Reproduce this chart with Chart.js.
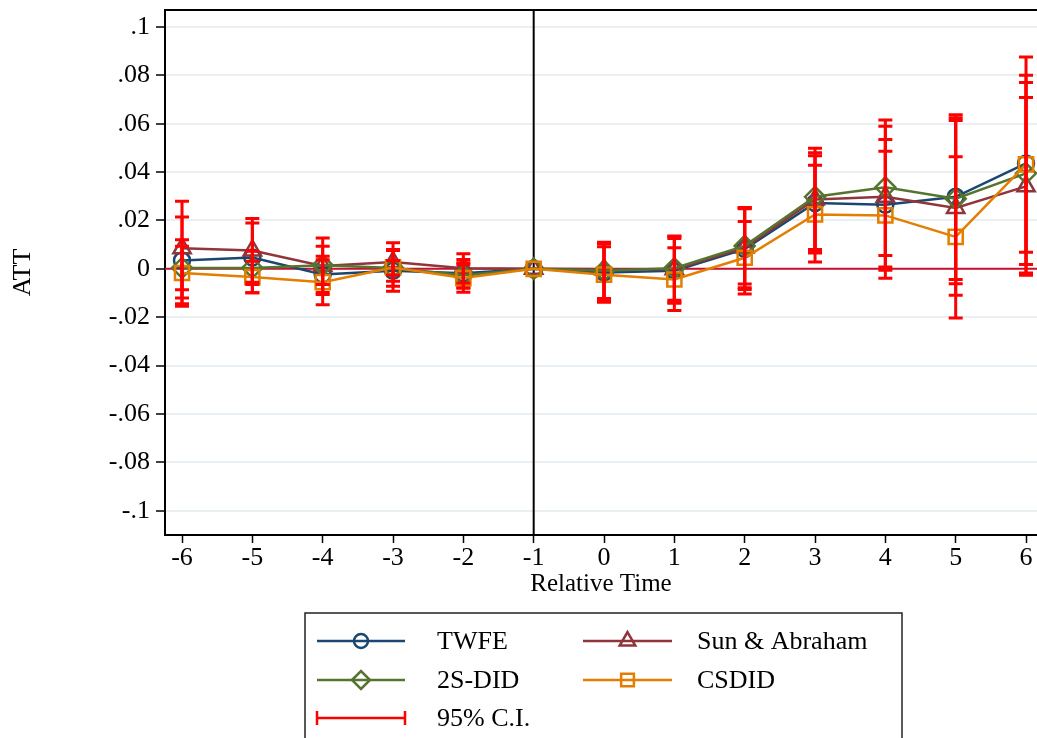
<!DOCTYPE html>
<html>
<head>
<meta charset="utf-8">
<script src="https://cdn.jsdelivr.net/npm/chart.js@4/dist/chart.umd.min.js"></script>
<style>
  html, body { margin: 0; padding: 0; background: #fff; overflow: hidden; }
  canvas { display: block; }
</style>
</head>
<body>
<canvas id="attChart" width="1037" height="738"></canvas>
<script>
// Event-study estimates by relative time
const relTime = [-6, -5, -4, -3, -2, -1, 0, 1, 2, 3, 4, 5, 6];
const xTicks = [-6, -5, -4, -3, -2, -1, 0, 1, 2, 3, 4, 5, 6];
const yTicks = [-0.1, -0.08, -0.06, -0.04, -0.02, 0, 0.02, 0.04, 0.06, 0.08, 0.1];

const twfe    = [0.0035, 0.0047, -0.0023, -0.0008, -0.0018, 0, -0.0015, -0.0008, 0.0082, 0.0272, 0.0265, 0.0298, 0.0436];
const twfeLo  = [-0.0144, -0.0099, -0.0098, -0.0092, -0.0079, 0, -0.0135, -0.0142, -0.0085, 0.0072, 0.0008, -0.0044, 0.0069];
const twfeHi  = [0.0214, 0.0190, 0.0052, 0.0076, 0.0039, 0, 0.0104, 0.0126, 0.0249, 0.0468, 0.0535, 0.0637, 0.0800];

const sunAb   = [0.0085, 0.0076, 0.0012, 0.0028, 0.0003, 0, -0.0002, -0.0002, 0.0088, 0.0287, 0.0298, 0.0252, 0.0341];
const sunAbLo = [-0.0120, -0.0055, -0.0106, -0.0051, -0.0058, 0, -0.0122, -0.0138, -0.0078, 0.0066, -0.0006, -0.0109, -0.0026];
const sunAbHi = [0.0280, 0.0208, 0.0128, 0.0108, 0.0063, 0, 0.0108, 0.0134, 0.0254, 0.0480, 0.0590, 0.0613, 0.0708];

const twoS    = [0.0004, 0.0004, 0.0015, 0.0004, -0.0026, 0, -0.0008, 0.0003, 0.0095, 0.0298, 0.0337, 0.0290, 0.0395];
const twoSLo  = [-0.0086, -0.0065, -0.0065, -0.0025, -0.0079, 0, -0.0127, -0.0130, -0.0063, 0.0080, 0.0055, -0.0061, 0.0018];
const twoSHi  = [0.0094, 0.0073, 0.0094, 0.0035, 0.0025, 0, 0.0110, 0.0136, 0.0253, 0.0499, 0.0615, 0.0625, 0.0770];

const csdid   = [-0.0017, -0.0034, -0.0055, 0.0006, -0.0038, 0, -0.0024, -0.0044, 0.0046, 0.0225, 0.0221, 0.0132, 0.0432];
const csdidLo = [-0.0154, -0.0099, -0.0148, -0.0072, -0.0097, 0, -0.0138, -0.0172, -0.0104, 0.0028, -0.0039, -0.0203, -0.0017];
const csdidHi = [0.0120, 0.0031, 0.0038, 0.0080, 0.0018, 0, 0.0091, 0.0087, 0.0196, 0.0428, 0.0486, 0.0463, 0.0876];

const seriesLabels = ['TWFE', 'Sun & Abraham', '2S-DID', 'CSDID'];
const seriesColors = ['#1a476f', '#90353b', '#55752f', '#e37e00'];
const seriesStyles = ['circle', 'triangle', 'rectRot', 'rect'];
const seriesRadius = [8, 10, 10, 10];
const ciLabel = '95% C.I.';

const serif = "'Liberation Serif', 'Times New Roman', serif";
const ciColor = '#ff0000';

function stataFmt(v) {
    if (Math.abs(v) < 1e-9) return '0';
    return parseFloat(v.toFixed(3)).toString().replace('0.', '.');
}

function toPoints(vals) {
    return vals.map((v, i) => ({ x: relTime[i], y: v }));
}

const estimates = [twfe, sunAb, twoS, csdid];
const lowers = [twfeLo, sunAbLo, twoSLo, csdidLo];
const uppers = [twfeHi, sunAbHi, twoSHi, csdidHi];

// reference lines drawn under the series: zero line and treatment line at -1
const refLines = {
    id: 'refLines',
    beforeDatasetsDraw(chart) {
        const { ctx, chartArea: a, scales: { x, y } } = chart;
        ctx.save();
        const y0 = y.getPixelForValue(0);
        ctx.strokeStyle = '#c8102e';
        ctx.lineWidth = 2;
        ctx.beginPath();
        ctx.moveTo(a.left, y0);
        ctx.lineTo(a.right, y0);
        ctx.stroke();

        const xm = x.getPixelForValue(-1);
        ctx.strokeStyle = '#000';
        ctx.lineWidth = 2;
        ctx.beginPath();
        ctx.moveTo(xm, a.top);
        ctx.lineTo(xm, a.bottom);
        ctx.stroke();

        // top frame
        ctx.beginPath();
        ctx.moveTo(a.left, a.top);
        ctx.lineTo(a.right, a.top);
        ctx.stroke();
        ctx.restore();
    }
};

// confidence intervals as capped red bars, on top of the markers
const ciBars = {
    id: 'ciBars',
    afterDatasetsDraw(chart) {
        const { ctx, scales: { x, y } } = chart;
        const cap = 7;
        ctx.save();
        ctx.strokeStyle = ciColor;
        ctx.lineWidth = 3;
        for (let s = 0; s < lowers.length; s++) {
            for (let i = 0; i < relTime.length; i++) {
                if (lowers[s][i] === uppers[s][i]) continue;
                const px = x.getPixelForValue(relTime[i]);
                const lo = y.getPixelForValue(lowers[s][i]);
                const hi = y.getPixelForValue(uppers[s][i]);
                ctx.beginPath();
                ctx.moveTo(px, lo);
                ctx.lineTo(px, hi);
                ctx.moveTo(px - cap, lo);
                ctx.lineTo(px + cap, lo);
                ctx.moveTo(px - cap, hi);
                ctx.lineTo(px + cap, hi);
                ctx.stroke();
            }
        }
        ctx.restore();
    }
};

// boxed legend under the axis title
const boxLegend = {
    id: 'boxLegend',
    afterDraw(chart) {
        const ctx = chart.ctx;
        const box = { left: 305, top: 613, right: 902, bottom: 745 };
        const cols = [{ x0: 317, x1: 405, tx: 437 }, { x0: 583, x1: 672, tx: 697 }];
        const rows = [641, 680, 718];
        ctx.save();
        ctx.strokeStyle = '#222';
        ctx.lineWidth = 1.5;
        ctx.strokeRect(box.left, box.top, box.right - box.left, box.bottom - box.top);

        ctx.font = '26px ' + serif;
        ctx.textBaseline = 'middle';
        ctx.fillStyle = '#000';

        seriesLabels.forEach((label, k) => {
            const c = cols[k % 2];
            const yy = rows[Math.floor(k / 2)];
            ctx.strokeStyle = seriesColors[k];
            ctx.lineWidth = 2.5;
            ctx.beginPath();
            ctx.moveTo(c.x0, yy);
            ctx.lineTo(c.x1, yy);
            ctx.stroke();
            ctx.fillStyle = 'rgba(0,0,0,0)';
            Chart.helpers.drawPoint(ctx, {
                pointStyle: seriesStyles[k],
                radius: seriesRadius[k] - 1,
                borderWidth: 2.5,
                rotation: 0
            }, (c.x0 + c.x1) / 2, yy);
            ctx.fillStyle = '#000';
            ctx.fillText(label, c.tx, yy + 1);
        });

        // CI key
        const yy = rows[2];
        const c = cols[0];
        ctx.strokeStyle = ciColor;
        ctx.lineWidth = 2.5;
        ctx.beginPath();
        ctx.moveTo(c.x0, yy);
        ctx.lineTo(c.x1, yy);
        ctx.moveTo(c.x0, yy - 7);
        ctx.lineTo(c.x0, yy + 7);
        ctx.moveTo(c.x1, yy - 7);
        ctx.lineTo(c.x1, yy + 7);
        ctx.stroke();
        ctx.fillStyle = '#000';
        ctx.fillText(ciLabel, c.tx, yy + 1);
        ctx.restore();
    }
};

const datasets = estimates.map((vals, k) => ({
    label: seriesLabels[k],
    data: toPoints(vals),
    borderColor: seriesColors[k],
    backgroundColor: 'rgba(0,0,0,0)',
    borderWidth: 2.5,
    pointStyle: seriesStyles[k],
    pointRadius: seriesRadius[k],
    pointBorderWidth: 2.5,
    pointBackgroundColor: 'rgba(0,0,0,0)',
    pointBorderColor: seriesColors[k],
    tension: 0,
    clip: false,
    order: 4 - k
}));

new Chart(document.getElementById('attChart').getContext('2d'), {
    type: 'line',
    data: { datasets: datasets },
    options: {
        responsive: false,
        animation: false,
        devicePixelRatio: 1,
        layout: { autoPadding: false, padding: { top: 10, right: 0, left: 0, bottom: 137 } },
        plugins: {
            legend: { display: false },
            tooltip: { enabled: false }
        },
        scales: {
            x: {
                type: 'linear',
                min: -6.242,
                max: 6.156,
                afterBuildTicks: s => { s.ticks = xTicks.map(v => ({ value: v })); },
                afterFit: s => { s.height = 66; s.paddingLeft = 0; s.paddingRight = 0; },
                ticks: {
                    color: '#000',
                    font: { family: serif, size: 26 },
                    padding: 0,
                    maxRotation: 0,
                    autoSkip: false,
                    callback: v => String(v)
                },
                grid: { drawOnChartArea: false, tickColor: '#000', tickLength: 8, tickWidth: 1.5 },
                border: { color: '#000', width: 2 },
                title: { display: true, text: 'Relative Time', color: '#000', font: { family: serif, size: 25 }, padding: { top: 0, bottom: 2 } }
            },
            y: {
                type: 'linear',
                min: -0.11,
                max: 0.107,
                afterBuildTicks: s => { s.ticks = yTicks.map(v => ({ value: v })); },
                afterFit: s => { s.width = 165; s.paddingTop = 0; s.paddingBottom = 0; },
                ticks: {
                    color: '#000',
                    font: { family: serif, size: 26 },
                    padding: 6,
                    callback: v => stataFmt(v)
                },
                grid: { color: '#e9eff3', lineWidth: 2, tickColor: '#000', tickLength: 9, tickWidth: 1.5 },
                border: { color: '#000', width: 2 },
                title: { display: true, text: 'ATT', color: '#000', font: { family: serif, size: 26 }, padding: { top: 8, bottom: 0 } }
            }
        }
    },
    plugins: [refLines, ciBars, boxLegend]
});
</script>
</body>
</html>
